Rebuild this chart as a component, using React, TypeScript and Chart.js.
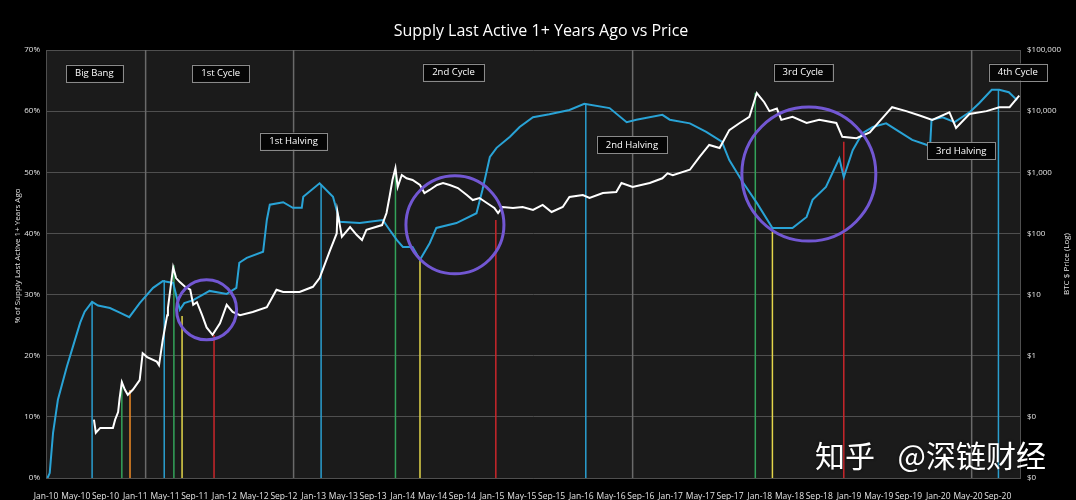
import React, { useEffect, useRef } from "react";
import { Chart, registerables } from "chart.js";

Chart.register(...registerables);

// ---------- DATA ----------
const xTickLabels = [
  "Jan-10", "May-10", "Sep-10", "Jan-11", "May-11", "Sep-11", "Jan-12", "May-12", "Sep-12",
  "Jan-13", "May-13", "Sep-13", "Jan-14", "May-14", "Sep-14", "Jan-15", "May-15", "Sep-15",
  "Jan-16", "May-16", "Sep-16", "Jan-17", "May-17", "Sep-17", "Jan-18", "May-18", "Sep-18",
  "Jan-19", "May-19", "Sep-19", "Jan-20", "May-20", "Sep-20",
];

// months since Jan-2010
const blueMonths = [
  0.2, 0.5, 0.95, 1.6, 2.8, 3.6, 4.6, 5.2, 6.2, 7, 8.6, 10, 11.2, 12.6, 14.4, 15.7, 17.1, 18, 18.6, 19.8, 22, 24.3,
  25.6, 26, 27, 29.2, 29.7, 30.1, 31.9, 33.2, 34.4, 34.6, 36.8, 38.6, 39.1, 39.5, 42.2, 45.3,
  46.2, 47.2, 48, 49.3, 50.3, 51.6, 52.5, 55.2, 57.9, 58.7, 59.7, 60.6, 62.4, 63.7, 65.5, 67.7,
  70.4, 72.4, 75.8, 78.1, 79.4, 82.9, 83.9, 86.6, 88.8, 90.9, 91.9, 93.7, 95.6, 97.7, 100.4,
  102.3, 103.1, 104.9, 106.7, 107.3, 108.5, 109.8, 111.2, 113, 114.8, 116.5, 118.4, 118.9,
  119.1, 120.6, 122.2, 124.3, 125.5, 127.2, 128.2, 129.5, 130.6,
];
const bluePct = [
  0, 0.8, 7.4, 12.8, 18.2, 21.4, 25.4, 27.2, 28.8, 28.2, 27.8, 27, 26.3, 28.6, 31.1, 32.2, 31.9, 27.5, 28.6, 29.1, 30.6, 30.1,
  31.1, 35.2, 36, 37, 42.2, 44.7, 45.1, 44.2, 44.2, 46, 48.2, 46, 43.8, 41.9, 41.7, 42.2,
  40.6, 38.9, 37.8, 37.8, 35.7, 38.4, 40.9, 41.7, 43.3, 47.1, 52.5, 54, 55.8, 57.4, 59, 59.5,
  60.2, 61.2, 60.5, 58.2, 58.6, 59.4, 58.6, 58, 56.6, 55, 52, 48.4, 45, 40.9, 40.9,
  42.7, 45.5, 47.6, 52.3, 49.2, 53.6, 56.4, 57.4, 58, 56.6, 55.3, 54.5, 54.1,
  58.6, 59, 58.2, 59.9, 61.3, 63.5, 63.5, 63.1, 61.8,
];

const priceMonths = [
  6.45, 6.7, 7.3, 8.6, 9.0, 9.3, 9.7, 9.9, 10.2, 10.6, 11.0, 11.7, 12.6, 13.0, 13.6, 14.9, 15.2,
  15.7, 16.3, 16.4, 17.1, 17.5, 18.0, 18.7, 19.4, 19.8, 20.3, 21.0, 21.6, 22.4, 23.4, 24.3, 25.1,
  26.1, 27.8, 29.7, 31.0, 31.9, 34.1, 35.9, 36.8, 38.2, 39.1, 39.2, 39.8, 40.9, 41.8, 42.5, 43.1,
  43.9, 45.2, 45.8, 46.2, 46.6, 47.0, 47.3, 47.85, 48.5, 49.3, 50.3, 50.9, 51.6, 52.6, 53.4,
  54.3, 55.4, 56.6, 57.4, 58.3, 59.3, 60.3, 60.8, 61.4, 62.8, 64.1, 65.5, 66.8, 68.0, 69.5,
  70.4, 72.2, 73.1, 74.9, 76.7, 77.4, 78.9, 81.2, 82.9, 83.6, 84.3, 86.6, 87.9, 89.2, 90.6,
  91.9, 93.3, 94.6, 95.6, 96.6, 97.3, 98.3, 98.9, 100.4, 102.3, 104.0, 106.3, 107.1, 109.0,
  110.8, 112.1, 113.8, 115.7, 117.5, 119.2, 121.5, 122.4, 124.2, 126.5, 128.2, 129.6, 130.9,
];
const priceUsd = [
  0.09, 0.055, 0.066, 0.066, 0.066, 0.09, 0.12, 0.2, 0.37, 0.28, 0.23, 0.28, 0.4, 1.1, 0.95, 0.8, 0.7,
  1.8, 4.6, 6.0, 28, 18.6, 16, 13.4, 12, 6.8, 7.5, 4.6, 2.9, 2.2, 3.4, 6.8, 5.2,
  4.6, 5.2, 6.2, 12, 11, 11, 13.4, 18.6, 53, 100, 224, 88, 127, 94, 78, 115,
  123, 137, 216, 394, 748, 1175, 575, 903, 798, 748, 620, 458, 514, 620, 668,
  620, 553, 425, 352, 380, 315, 261, 216, 271, 261, 271, 242, 292, 224, 271,
  394, 425, 380, 458, 476, 668, 575, 668, 798, 960, 900, 1100, 1790, 2800, 2500,
  4900, 6400, 8100, 19800, 14000, 10000, 11000, 7200, 8100, 6400, 7200, 6400, 3800, 3600,
  4500, 6800, 11600, 10000, 8500, 7200, 9600, 5300, 9000, 10000, 11600, 11600, 18000,
];

const cycleLineMonths = [13.4, 33.3, 78.9, 124.5];

const markerMonths = [6.2, 10.2, 11.3, 15.9, 17.2, 18.3, 22.6, 37.0, 47.0, 50.3, 60.5, 72.6, 95.4, 97.7, 107.3, 128.1];
const markerTops = [28.8, 15.9, 14.4, 32.4, 34.8, 26.5, 23.4, 48.0, 50.5, 35.7, 42.2, 61.2, 63.0, 40.9, 55.0, 63.5];
const markerKinds = [
  "blue", "green", "orange", "blue", "green", "yellow", "red", "blue",
  "green", "yellow", "red", "blue", "green", "yellow", "red", "blue",
];

const circleMonths = [21.6, 55.0, 102.6];
const circlePct = [27.5, 41.4, 49.7];

const labelTexts = ["Big Bang", "1st Cycle", "1st Halving", "2nd Cycle", "2nd Halving", "3rd Cycle", "3rd Halving", "4th Cycle"];
const labelMonths = [6.5, 23.5, 33.3, 54.8, 78.8, 101.8, 123.1, 130.7];
const labelPct = [66.2, 66.2, 55.1, 66.4, 54.5, 66.4, 53.5, 66.4];

const pctTicks = [0, 10, 20, 30, 40, 50, 60, 70];
const priceTicks = [0.01, 0.1, 1, 10, 100, 1000, 10000, 100000];

// ---------- STYLE ----------
const FONT = "'Open Sans', 'DejaVu Sans', sans-serif";
const BLUE = "#29a3d6";
const GRID = "#4f4f4f";
const TICK = "#e2e2e2";
const MARKER_COLORS: Record<string, string> = {
  blue: "#2a9fd0",
  green: "#33a35a",
  orange: "#f08a24",
  yellow: "#e3d64a",
  red: "#c9262b",
};

const decorPlugin = {
  id: "decor",
  beforeDraw(chart: any) {
    const { ctx, chartArea } = chart;
    ctx.save();
    ctx.fillStyle = "#000";
    ctx.fillRect(0, 0, chart.width, chart.height);
    ctx.fillStyle = "#1b1b1b";
    ctx.fillRect(chartArea.left, chartArea.top, chartArea.right - chartArea.left, chartArea.bottom - chartArea.top);
    ctx.restore();
  },
  afterDraw(chart: any) {
    const { ctx, chartArea, scales } = chart;
    ctx.save();
    // title
    ctx.fillStyle = "#ffffff";
    ctx.font = `16px ${FONT}`;
    ctx.textAlign = "center";
    ctx.textBaseline = "middle";
    ctx.fillText("Supply Last Active 1+ Years Ago vs Price", 541, 31);

    // axis titles
    ctx.font = `8px ${FONT}`;
    ctx.fillStyle = TICK;
    ctx.save();
    ctx.translate(18, (chartArea.top + chartArea.bottom) / 2 - 8);
    ctx.rotate(-Math.PI / 2);
    ctx.fillText("% of Supply Last Active 1+ Years Ago", 0, 0);
    ctx.restore();
    ctx.save();
    ctx.translate(1067, (chartArea.top + chartArea.bottom) / 2);
    ctx.rotate(-Math.PI / 2);
    ctx.fillText("BTC $ Price (Log)", 0, 0);
    ctx.restore();

    // label boxes
    ctx.font = `9.5px ${FONT}`;
    labelTexts.forEach((t, i) => {
      const cx = scales.x.getPixelForValue(labelMonths[i]);
      const cy = scales.y.getPixelForValue(labelPct[i]);
      const w = ctx.measureText(t).width + 18;
      const h = 17;
      ctx.fillStyle = "#050505";
      ctx.fillRect(cx - w / 2, cy - h / 2, w, h);
      ctx.strokeStyle = "#8a8a8a";
      ctx.lineWidth = 1;
      ctx.strokeRect(Math.round(cx - w / 2) + 0.5, Math.round(cy - h / 2) + 0.5, Math.round(w), h);
      ctx.fillStyle = "#ffffff";
      ctx.textAlign = "center";
      ctx.textBaseline = "middle";
      ctx.fillText(t, cx, cy + 0.5);
    });

    // watermark
    ctx.fillStyle = "#ffffff";
    ctx.shadowColor = "rgba(0,0,0,0.6)";
    ctx.shadowBlur = 3;
    ctx.font = `30px 'Noto Sans CJK SC', sans-serif`;
    ctx.textBaseline = "alphabetic";
    ctx.textAlign = "left";
    ctx.fillText("知乎", 815, 467);
    ctx.textAlign = "right";
    ctx.fillText("@深链财经", 1046, 467);
    ctx.restore();
  },
};

export default function App() {
  const ref = useRef<HTMLCanvasElement | null>(null);

  useEffect(() => {
    if (!ref.current) return;

    const datasets: any[] = [];

    // circles (top)
    datasets.push({
      label: "circles",
      data: circleMonths.map((m, i) => ({ x: m, y: circlePct[i] })),
      yAxisID: "y",
      showLine: false,
      pointRadius: [30, 49, 67],
      pointHoverRadius: [30, 49, 67],
      pointStyle: "circle",
      pointBackgroundColor: "rgba(0,0,0,0)",
      pointBorderColor: "#7257d3",
      pointBorderWidth: 3,
      clip: false,
      order: 0,
    });

    // price
    datasets.push({
      label: "BTC Price",
      data: priceMonths.map((m, i) => ({ x: m, y: priceUsd[i] })),
      yAxisID: "y1",
      borderColor: "#ffffff",
      borderWidth: 2,
      pointRadius: 0,
      tension: 0,
      order: 1,
    });

    // supply
    datasets.push({
      label: "% Supply",
      data: blueMonths.map((m, i) => ({ x: m, y: bluePct[i] })),
      yAxisID: "y",
      borderColor: BLUE,
      borderWidth: 2,
      pointRadius: 0,
      tension: 0,
      order: 2,
    });

    // markers
    markerMonths.forEach((m, i) => {
      datasets.push({
        label: "marker" + i,
        data: [
          { x: m, y: 0 },
          { x: m, y: markerTops[i] },
        ],
        yAxisID: "y",
        borderColor: MARKER_COLORS[markerKinds[i]],
        borderWidth: 1.5,
        pointRadius: 0,
        order: 3,
      });
    });

    // cycle lines
    cycleLineMonths.forEach((m, i) => {
      datasets.push({
        label: "cycle" + i,
        data: [
          { x: m, y: 0 },
          { x: m, y: 70 },
        ],
        yAxisID: "y",
        borderColor: "#6a6a6a",
        borderWidth: 1.5,
        pointRadius: 0,
        order: 4,
      });
    });

    const chart = new Chart(ref.current, {
      type: "line",
      data: { datasets },
      plugins: [decorPlugin],
      options: {
        animation: false,
        responsive: false,
        maintainAspectRatio: false,
        layout: { autoPadding: false, padding: { top: 50, left: 0, right: 0, bottom: 0 } },
        plugins: {
          legend: { display: false },
          tooltip: { enabled: false },
          title: { display: false },
        },
        events: [],
        scales: {
          x: {
            type: "linear",
            min: 0,
            max: 131,
            grid: { display: false },
            border: { display: true, color: GRID, width: 1 },
            afterBuildTicks: (axis: any) => {
              axis.ticks = xTickLabels.map((_, i) => ({ value: i * 4 }));
            },
            afterFit: (axis: any) => {
              axis.height = 22;
            },
            ticks: {
              autoSkip: false,
              maxRotation: 0,
              minRotation: 0,
              padding: 5,
              color: TICK,
              font: { size: 8.5, family: FONT },
              callback: (v: any) => xTickLabels[Math.round(Number(v) / 4)],
            },
          },
          y: {
            type: "linear",
            position: "left",
            min: 0,
            max: 70,
            grid: { color: GRID, lineWidth: 1, drawTicks: false },
            border: { display: true, color: GRID, width: 1 },
            afterBuildTicks: (axis: any) => {
              axis.ticks = pctTicks.map((v) => ({ value: v }));
            },
            afterFit: (axis: any) => {
              axis.width = 46;
            },
            ticks: {
              padding: 6,
              color: TICK,
              font: { size: 8, family: FONT },
              callback: (v: any) => v + "%",
            },
          },
          y1: {
            type: "logarithmic",
            position: "right",
            min: 0.01,
            max: 100000,
            grid: { display: false, drawTicks: false },
            border: { display: true, color: GRID, width: 1 },
            afterBuildTicks: (axis: any) => {
              axis.ticks = priceTicks.map((v) => ({ value: v }));
            },
            afterFit: (axis: any) => {
              axis.width = 56;
            },
            ticks: {
              autoSkip: false,
              padding: 7,
              color: TICK,
              font: { size: 8, family: FONT },
              callback: (v: any) => "$" + Math.round(Number(v)).toLocaleString("en-US"),
            },
          },
        },
      },
    });

    return () => chart.destroy();
  }, []);

  return (
    <div style={{ position: "fixed", left: 0, top: 0, width: 1076, height: 500, background: "#000" }}>
      <canvas ref={ref} width={1076} height={500} style={{ display: "block" }} />
    </div>
  );
}
